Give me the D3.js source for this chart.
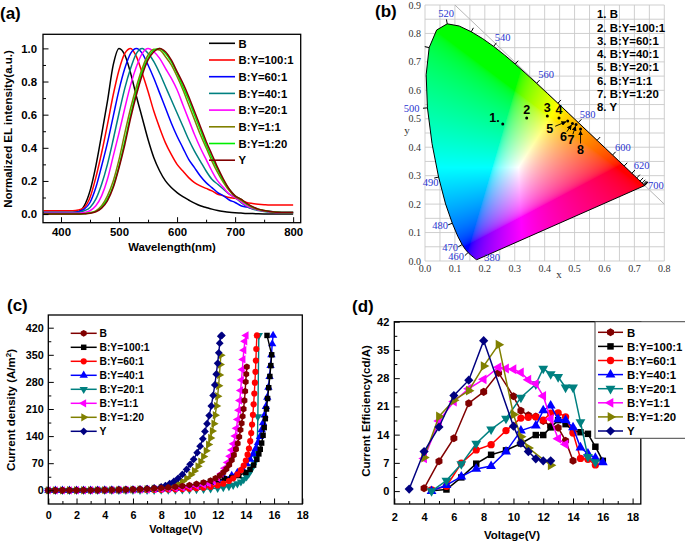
<!DOCTYPE html>
<html><head><meta charset="utf-8">
<script src="https://cdn.jsdelivr.net/npm/d3@7"></script>
<style>html,body{margin:0;padding:0;background:#fff}svg{display:block}</style>
</head><body>
<svg id="fig" width="685" height="541" xmlns="http://www.w3.org/2000/svg"></svg>
<script>
// ================= DATA =================
const seriesNames = ["B","B:Y=100:1","B:Y=60:1","B:Y=40:1","B:Y=20:1","B:Y=1:1","B:Y=1:20","Y"];

// (a) normalized EL spectra
const specWavelength = [370,400,420,430,440,450,460,470,480,490,500,510,520,530,540,550,560,570,580,590,600,610,620,630,640,650,660,670,680,690,700,710,720,730,740,750,760,780,800];
const specB     = [0.01,0.01,0.01,0.015,0.05,0.14,0.29,0.48,0.68,0.9, 1.0,0.96,0.85,0.71,0.58,0.45,0.34,0.26,0.2,0.16, 0.13,0.105,0.085,0.066,0.05,0.04,0.03,0.022,0.016,0.011, 0.008,0.006,0.004,0.003,0.002,0.001,0,0,0];
const specBY100 = [0.02,0.02,0.02,0.025,0.04,0.1,0.22,0.37,0.54,0.72, 0.87,0.97,1.0,0.95,0.85,0.74,0.62,0.52,0.43,0.36, 0.3,0.26,0.22,0.19,0.17,0.155,0.14,0.12,0.11,0.1, 0.095,0.085,0.07,0.064,0.06,0.057,0.055,0.055,0.055];
const specBY60  = [0.01,0.01,0.01,0.015,0.03,0.07,0.16,0.29,0.43,0.59, 0.75,0.88,0.97,1.0,0.97,0.9,0.82,0.73,0.64,0.55, 0.47,0.4,0.33,0.28,0.23,0.19,0.16,0.13,0.11,0.085, 0.07,0.05,0.042,0.033,0.025,0.02,0.015,0.01,0.01];
const specBY40  = [0.01,0.01,0.01,0.01,0.02,0.04,0.09,0.18,0.3,0.45, 0.61,0.76,0.88,0.97,1.0,0.97,0.92,0.85,0.77,0.69, 0.61,0.53,0.45,0.38,0.32,0.26,0.21,0.18,0.15,0.12, 0.1,0.07,0.045,0.03,0.022,0.016,0.012,0.01,0.01];
const specBY20  = [0.005,0.005,0.005,0.005,0.01,0.02,0.05,0.11,0.21,0.35, 0.49,0.64,0.78,0.89,0.97,1.0,0.98,0.94,0.88,0.82, 0.75,0.66,0.57,0.48,0.4,0.33,0.26,0.2,0.16,0.12, 0.1,0.075,0.05,0.035,0.025,0.018,0.013,0.01,0.01];
const specBY1   = [0,0,0,0,0.003,0.008,0.02,0.05,0.11,0.2, 0.33,0.49,0.64,0.77,0.88,0.96,0.995,0.99,0.95,0.9, 0.83,0.75,0.66,0.57,0.48,0.4,0.32,0.25,0.19,0.14, 0.105,0.085,0.06,0.04,0.028,0.02,0.015,0.01,0.01];
const specBY1_20= [0,0,0,0,0.002,0.006,0.016,0.04,0.09,0.17, 0.29,0.44,0.6,0.74,0.86,0.94,0.99,1.0,0.97,0.92, 0.85,0.77,0.69,0.6,0.51,0.42,0.34,0.27,0.2,0.15, 0.11,0.09,0.062,0.042,0.03,0.022,0.016,0.01,0.01];
const specY     = [0,0,0,0,0.002,0.005,0.014,0.036,0.08,0.16, 0.28,0.42,0.58,0.72,0.84,0.93,0.98,1.0,0.98,0.93, 0.86,0.79,0.71,0.62,0.53,0.44,0.36,0.28,0.21,0.15, 0.11,0.09,0.065,0.045,0.03,0.022,0.016,0.01,0.01];
const specXTicks = [400,500,600,700,800];
const specYTicks = [0,0.2,0.4,0.6,0.8,1.0];

// (b) CIE 1931 spectral locus and device coordinates
const cieLocusWl = [380,385,390,395,400,405,410,415,420,425,430,435,440,445,450,455,460,465,470,475,480,485,490,495,500,505,510,515,520,525,530,535,540,545,550,555,560,565,570,575,580,585,590,595,600,605,610,615,620,625,630,635,640,645,650,660,670,680,690,700];
const cieLocusX = [.1741,.1740,.1738,.1736,.1733,.1730,.1726,.1721,.1714,.1703,.1689,.1669,.1644,.1611,.1566,.1510,.1440,.1355,.1241,.1096,.0913,.0687,.0454,.0235,.0082,.0039,.0139,.0389,.0743,.1142,.1547,.1929,.2296,.2658,.3016,.3373,.3731,.4087,.4441,.4788,.5125,.5448,.5752,.6029,.6270,.6482,.6658,.6801,.6915,.7006,.7079,.7140,.7190,.7230,.7260,.7300,.7320,.7334,.7344,.7347];
const cieLocusY = [.0050,.0050,.0049,.0049,.0048,.0048,.0048,.0048,.0051,.0058,.0069,.0086,.0109,.0138,.0177,.0227,.0297,.0399,.0578,.0868,.1327,.2007,.2950,.4127,.5384,.6548,.7502,.8120,.8338,.8262,.8059,.7816,.7543,.7243,.6923,.6589,.6245,.5896,.5547,.5202,.4866,.4544,.4242,.3965,.3725,.3514,.3340,.3197,.3083,.2993,.2920,.2859,.2809,.2770,.2740,.2700,.2680,.2666,.2656,.2653];
const cieLabelWl = [380,460,470,480,490,500,520,540,560,580,600,620,700];
const ciePointX = [0.26,0.34,0.409,0.448,0.477,0.493,0.505,0.52];
const ciePointY = [0.482,0.503,0.51,0.503,0.492,0.483,0.48,0.464];
const ciePointLabel = ["1.","2","3","4","5","6","7","8"];
const cieLegend = ["1. B","2. B:Y=100:1","3. B:Y=60:1","4. B:Y=40:1","5. B:Y=20:1","6. B:Y=1:1","7. B:Y=1:20","8. Y"];
const cieXTicks = [0,0.1,0.2,0.3,0.4,0.5,0.6,0.7,0.8];
const cieYTicks = [0,0.1,0.2,0.3,0.4,0.5,0.6,0.7,0.8,0.9];

// (c) current density vs voltage  [V, A/m2]
const jvB = [[0,0],[0.5,0],[1,0.1],[1.5,0.2],[2,0.3],[2.5,0.4],[3,0.5],[3.5,0.7],[4,0.9],[4.5,1.2],[5,1.5],[5.5,1.9],[6,2.4],[6.5,3],[7,3.8],[7.5,4.8],[8,6],[8.5,7.4],[9,9],[9.5,11],[10,13.3],[10.5,16.3],[11,20],[11.5,25],[11.85,31],[12.15,38],[12.4,46],[12.62,55],[12.82,66],[13,78],[13.15,91],[13.3,106],[13.42,121],[13.53,138],[13.62,156],[13.7,173],[13.77,191],[13.84,210],[13.9,232],[13.95,256],[13.99,280],[14.03,300],[14.07,319]];
const jvBY100 = [[0,0],[0.5,0],[1,0],[1.5,0.1],[2,0.1],[2.5,0.2],[3,0.2],[3.5,0.3],[4,0.4],[4.5,0.5],[5,0.7],[5.5,0.9],[6,1.2],[6.5,1.5],[7,2],[7.5,2.6],[8,3.4],[8.5,4.5],[9,6],[9.5,8],[10,10.5],[10.5,14],[11,18],[11.5,23],[12,27],[12.5,30],[13,33],[13.5,38],[14,46],[14.3,54],[14.55,65],[14.78,80],[14.92,94],[15.02,106],[15.12,122],[15.22,142],[15.3,162],[15.38,185],[15.46,210],[15.54,237],[15.62,265],[15.7,294],[15.77,322],[15.83,350],[15.5,400]];
const jvBY60 = [[0,0],[0.5,0],[1,0],[1.5,0],[2,0],[2.5,0.1],[3,0.1],[3.5,0.2],[4,0.2],[4.5,0.3],[5,0.4],[5.5,0.5],[6,0.6],[6.5,0.8],[7,1],[7.5,1.3],[8,1.6],[8.5,2],[9,2.5],[9.5,3.2],[10,4],[10.5,5.2],[11,6.8],[11.5,9],[12,12.5],[12.4,17],[12.8,24],[13.1,31],[13.4,41],[13.65,52],[13.85,64],[14,77],[14.12,92],[14.22,108],[14.31,127],[14.38,148],[14.44,170],[14.5,195],[14.55,222],[14.6,250],[14.64,278],[14.68,306],[14.71,335],[14.74,365],[14.78,400]];
const jvBY40 = [[0,0],[0.5,0],[1,0],[1.5,0],[2,0.1],[2.5,0.1],[3,0.2],[3.5,0.2],[4,0.3],[4.5,0.4],[5,0.5],[5.5,0.7],[6,0.9],[6.5,1.2],[7,1.6],[7.5,2.1],[8,2.8],[8.5,3.7],[9,4.8],[9.5,6.3],[10,8.3],[10.5,11],[11,14.5],[11.5,19],[12,24],[12.5,30],[13,38],[13.4,46],[13.75,56],[14.05,68],[14.3,80],[14.52,94],[14.7,108],[14.86,123],[15,139],[15.12,156],[15.22,174],[15.32,194],[15.42,216],[15.52,240],[15.6,266],[15.68,294],[15.75,322],[15.81,350],[15.87,378],[15.93,400]];
const jvBY20 = [[0,0],[0.5,0],[1,0],[1.5,0],[2,0],[2.5,0],[3,0],[3.5,0.1],[4,0.1],[4.5,0.1],[5,0.2],[5.5,0.2],[6,0.3],[6.5,0.3],[7,0.4],[7.5,0.5],[8,0.6],[8.5,0.8],[9,1],[9.5,1.3],[10,1.7],[10.5,2.2],[11,3],[11.5,4],[12,5.5],[12.4,7.5],[12.8,10],[13.1,13],[13.4,17],[13.65,22],[13.85,28],[14.05,35],[14.2,42],[14.35,52],[14.5,62],[14.62,72],[14.72,84],[14.8,96],[14.85,190],[14.92,400]];
const jvBY1 = [[0,0],[0.5,0],[1,0],[1.5,0],[2,0.1],[2.5,0.1],[3,0.2],[3.5,0.3],[4,0.4],[4.5,0.5],[5,0.7],[5.5,0.9],[6,1.2],[6.5,1.6],[7,2.1],[7.5,2.8],[8,3.6],[8.5,4.6],[9,5.8],[9.5,7.3],[10,9.2],[10.5,11.5],[11,14.5],[11.35,18],[11.7,24],[12,32],[12.25,43],[12.5,57],[12.7,72],[12.87,88],[13,104],[13.12,120],[13.24,140],[13.33,160],[13.42,183],[13.5,207],[13.57,232],[13.63,258],[13.69,285],[13.75,312],[13.8,338],[13.86,362],[13.93,385],[14.02,400]];
const jvBY1_20 = [[0,0],[0.5,0],[1,0],[1.5,0.1],[2,0.1],[2.5,0.2],[3,0.3],[3.5,0.4],[4,0.5],[4.5,0.7],[5,0.9],[5.5,1.2],[6,1.6],[6.5,2.2],[7,3.1],[7.5,4.4],[8,6.3],[8.5,9.5],[8.9,13],[9.2,17],[9.5,23],[9.8,31],[10.1,40],[10.35,50],[10.6,62],[10.8,74],[11,87],[11.18,102],[11.35,118],[11.5,135],[11.62,153],[11.73,172],[11.83,194],[11.92,218],[12,243],[12.07,270],[12.13,298],[12.18,325],[12.23,349]];
const jvY = [[0,0],[0.5,0],[1,0.1],[1.5,0.1],[2,0.2],[2.5,0.3],[3,0.4],[3.5,0.5],[4,0.7],[4.5,0.9],[5,1.2],[5.5,1.6],[6,2.2],[6.5,3.1],[7,4.4],[7.5,6.3],[8,9],[8.3,12],[8.6,17],[8.9,23],[9.2,31],[9.5,41],[9.8,54],[10.05,67],[10.3,80],[10.55,97],[10.76,114],[10.95,133],[11.1,152],[11.25,172],[11.4,193],[11.55,218],[11.68,245],[11.8,272],[11.9,300],[12,328],[12.08,355],[12.15,380],[12.22,398],[12.3,400]];
const jvXTicks = [0,2,4,6,8,10,12,14,16,18];
const jvYTicks = [0,70,140,210,280,350,420];

// (d) current efficiency vs voltage  [V, cd/A]
const ceB = [[4,0.7],[5,7.4],[6,13.1],[7,21.8],[8,24.6],[9,29.3],[10,23.5],[10.5,19.9],[11,18.8],[11.5,18.5],[12,17.4],[12.5,16.1],[13,15.7],[13.5,12.5],[14,7.5]];
const ceBY100 = [[4.5,0.1],[5.5,0.4],[6.5,3.4],[7.5,6.8],[8.5,9],[9.5,10.1],[10.5,11.8],[11.5,13.9],[12,13.9],[12.5,15.8],[13,17.6],[13.5,16.6],[14,15],[14.5,14.6],[15,14.2],[15.5,11],[16,7.5]];
const ceBY60 = [[4.5,0.3],[5.5,1.2],[6.5,6.9],[7.5,10.2],[8.5,11.5],[9.5,15],[10.5,18.1],[11,18.3],[11.5,18.4],[12,17.6],[12.5,19.3],[13,19.4],[13.5,18.4],[14,14.4],[14.5,8.1],[15,7.9],[15.5,6.5]];
const ceBY40 = [[4.5,0],[5.5,1.5],[6.5,3.6],[7.5,5.5],[8.5,6.2],[9.5,9.8],[10.5,15],[11.5,16.2],[12,20],[12.5,21.2],[13,17.8],[13.5,17.6],[14,15.8],[14.5,10.8],[15,9.3],[15.5,8.2],[16,7.1]];
const ceBY20 = [[4.5,0],[5.5,2.6],[6.5,6.7],[7.5,11.8],[8.5,15.3],[9.5,18],[10.5,23.2],[11.5,26.5],[12,30.4],[12.5,29],[13,28.3],[13.5,25.7],[14,25.7],[14.5,17.1],[15,8.5],[15.5,7.2]];
const ceBY1 = [[4,8.1],[5,17.4],[6,22.2],[7,25.4],[8,27.7],[9,30.7],[9.5,30.4],[10,30.2],[10.5,29.4],[11,27.6],[11.5,26.6],[12,23.6],[12.5,17.9],[13,13],[13.5,11.6]];
const ceBY1_20 = [[4,8.3],[5,18.5],[6,22.5],[7,24.9],[8,31],[9,36.3],[10,19],[10.5,13.5],[11,10.7],[12.5,6.4]];
const ceY = [[3,0.5],[4,9.8],[5,15.9],[6,23.7],[7,27.5],[8,37.3],[10,16.1],[10.5,11.9],[11,9.8],[11.5,8],[12,7.5],[12.5,7.5]];
const ceXTicks = [2,4,6,8,10,12,14,16,18];
const ceYTicks = [0,7,14,21,28,35,42];

// ================= STYLE =================
const SANS = "'Liberation Sans', Arial, Helvetica, sans-serif";
const SERIF = "'Liberation Serif', 'Times New Roman', serif";
const specColors = ["#000000","#ff0000","#0000ff","#008080","#ff00ff","#808000","#00ee00","#800000"];
const devColors  = ["#800000","#000000","#ff0000","#0000ff","#008080","#ff00ff","#808000","#000080"];
// pixel offsets of the wavelength labels from their locus point (annotation layout)
const cieLabelOffset = {380:[15,-2.5],460:[-12,4],470:[-12,2.4],480:[-12.3,2.4],490:[-8,5.6],500:[-15.8,0],520:[-1,-11],
  540:[9,-9.2],560:[9.4,-9.4],580:[9.4,-8.3],600:[10.2,-7.8],620:[9.9,-7.6],700:[11.2,0]};

const svg = d3.select("#fig");
const fmt1 = d3.format(".1f");

const hexagon = { draw(ctx, size) { const r = Math.sqrt(size / 2.598);
  for (let i = 0; i < 6; i++) { const a = Math.PI / 3 * i + Math.PI / 6; const px = r * Math.cos(a), py = r * Math.sin(a); if (i) ctx.lineTo(px, py); else ctx.moveTo(px, py); }
  ctx.closePath(); } };
const markerDefs = [
  {type: hexagon, rot: 0}, {type: d3.symbolSquare, rot: 0}, {type: d3.symbolCircle, rot: 0},
  {type: d3.symbolTriangle, rot: 0}, {type: d3.symbolTriangle, rot: 180}, {type: d3.symbolTriangle, rot: -90},
  {type: d3.symbolTriangle, rot: 90}, {type: d3.symbolSquare, rot: 45}];

function originAxes(g, x, y, o) {
  const [xl, xr] = x.range(), [yb, yt] = y.range();
  const style = sel => {
    sel.select(".domain").remove();
    sel.selectAll("line").attr("stroke", "#000").attr("stroke-width", 1);
    sel.selectAll("text").attr("font-family", SANS).attr("font-weight", "bold").attr("font-size", o.fs).attr("fill", "#000");
  };
  g.append("g").attr("transform", `translate(0,${yb})`).call(d3.axisBottom(x).tickValues(o.xMinor).tickSize(-3).tickFormat("")).call(style);
  g.append("g").attr("transform", `translate(0,${yb})`).call(d3.axisBottom(x).tickValues(o.xTicks).tickSize(-5.5).tickPadding(o.xPad).tickFormat(o.xFmt)).call(style);
  g.append("g").attr("transform", `translate(${xl},0)`).call(d3.axisLeft(y).tickValues(o.yMinor).tickSize(-3).tickFormat("")).call(style);
  g.append("g").attr("transform", `translate(${xl},0)`).call(d3.axisLeft(y).tickValues(o.yTicks).tickSize(-5.5).tickPadding(o.yPad).tickFormat(o.yFmt)).call(style);
  g.append("rect").attr("x", xl).attr("y", yt).attr("width", xr - xl).attr("height", yb - yt)
    .attr("fill", "none").attr("stroke", "#000").attr("stroke-width", 1.3);
}
function boldText(g, x, y, txt, fs, anchor, rot) {
  const t = g.append("text").attr("x", x).attr("y", y).attr("font-family", SANS).attr("font-weight", "bold")
    .attr("font-size", fs).attr("text-anchor", anchor || "start").attr("fill", "#000").text(txt);
  if (rot) t.attr("transform", `rotate(${rot},${x},${y})`);
  return t;
}

// ================= (a) =================
{
  const g = svg.append("g");
  const x = d3.scaleLinear().domain([369, 813]).range([43, 300.7]);
  const y = d3.scaleLinear().domain([-0.052, 1.085]).range([222.7, 34.3]);
  const series = [specB, specBY100, specBY60, specBY40, specBY20, specBY1, specBY1_20, specY];
  const line = d3.line().x((d, i) => x(specWavelength[i])).y(d => y(d)).curve(d3.curveMonotoneX);
  series.forEach((s, k) => g.append("path").attr("d", line(s)).attr("fill", "none")
    .attr("stroke", specColors[k]).attr("stroke-width", 1.5));
  originAxes(g, x, y, {xTicks: specXTicks, xMinor: [450, 550, 650, 750], yTicks: specYTicks,
    yMinor: [0.1, 0.3, 0.5, 0.7, 0.9], xFmt: d3.format("d"), yFmt: fmt1, fs: 11.4, xPad: 5, yPad: 6});
  const ly = d3.scaleLinear().domain([0, 1]).range([43.3, 60]);
  seriesNames.forEach((n, k) => {
    g.append("line").attr("x1", 209).attr("x2", 235).attr("y1", ly(k)).attr("y2", ly(k))
      .attr("stroke", specColors[k]).attr("stroke-width", 1.6);
    boldText(g, 238.5, ly(k) + 4.2, n, 11.3);
  });
  boldText(g, 172, 251, "Wavelength(nm)", 11.3, "middle");
  boldText(g, 12, 129, "Normalized EL intensity(a.u.)", 11.5, "middle", -90);
  boldText(g, 0, 19, "(a)", 17);
}

// ================= (b) =================
{
  const g = svg.append("g");
  const x = d3.scaleLinear().domain([0, 0.8]).range([425, 664.3]);
  const y = d3.scaleLinear().domain([0, 0.9]).range([261, 5]);
  const gx = d3.range(0, 16.5).map(i => i * 0.05), gy = d3.range(0, 18.5).map(i => i * 0.05);
  g.selectAll(".gv").data(gx).join("line").attr("x1", d => x(d)).attr("x2", d => x(d)).attr("y1", y(0)).attr("y2", y(0.9))
    .attr("stroke", "#c9c9c9").attr("stroke-width", 0.9);
  g.selectAll(".gh").data(gy).join("line").attr("y1", d => y(d)).attr("y2", d => y(d)).attr("x1", x(0)).attr("x2", x(0.8))
    .attr("stroke", "#c9c9c9").attr("stroke-width", 0.9);
  g.append("line").attr("x1", x(0.1)).attr("y1", y(0.9)).attr("x2", x(0.8)).attr("y2", y(0.2))
    .attr("stroke", "#b5b5b5").attr("stroke-width", 1);
  const x0 = x.range()[0], y0 = y.range()[1];
  const cw = Math.ceil(x.range()[1] - x0), ch = Math.ceil(y.range()[0] - y0);
  const cvs = document.createElement("canvas"); cvs.width = cw; cvs.height = ch;
  const ctx = cvs.getContext("2d"); const im = ctx.createImageData(cw, ch);
  const gam = v => v <= 0.0031308 ? 12.92 * v : 1.055 * Math.pow(v, 1 / 2.4) - 0.055;
  for (let j = 0; j < ch; j++) for (let i = 0; i < cw; i++) {
    const cx = x.invert(x0 + i + 0.5), cy = y.invert(y0 + j + 0.5);
    if (cy <= 0.002) continue;
    const X = cx / cy, Y = 1, Z = (1 - cx - cy) / cy;
    let r = Math.max(0, 3.2406 * X - 1.5372 * Y - 0.4986 * Z);
    let gg = Math.max(0, -0.9689 * X + 1.8758 * Y + 0.0415 * Z);
    let b = Math.max(0, 0.0557 * X - 0.2040 * Y + 1.0570 * Z);
    const m = Math.max(r, gg, b) || 1;
    const idx = (j * cw + i) * 4;
    im.data[idx] = 255 * gam(r / m); im.data[idx + 1] = 255 * gam(gg / m); im.data[idx + 2] = 255 * gam(b / m); im.data[idx + 3] = 255;
  }
  ctx.putImageData(im, 0, 0);
  const locusPx = cieLocusWl.map((w, i) => [x(cieLocusX[i]), y(cieLocusY[i])]);
  const locusPath = d3.line()(locusPx) + "Z";
  svg.append("defs").append("clipPath").attr("id", "locusClip").append("path").attr("d", locusPath);
  g.append("image").attr("href", cvs.toDataURL()).attr("x", x0).attr("y", y0).attr("width", cw).attr("height", ch)
    .attr("preserveAspectRatio", "none").attr("clip-path", "url(#locusClip)");
  g.append("path").attr("d", locusPath).attr("fill", "none").attr("stroke", "#000").attr("stroke-width", 1);
  const cen = [x(0.33), y(0.33)];
  const normalAt = i => {
    const a = locusPx[Math.max(i - 1, 0)], b = locusPx[Math.min(i + 1, locusPx.length - 1)];
    let nx = b[1] - a[1], ny = -(b[0] - a[0]); const L = Math.hypot(nx, ny) || 1; nx /= L; ny /= L;
    const p = locusPx[i]; if ((p[0] - cen[0]) * nx + (p[1] - cen[1]) * ny < 0) { nx = -nx; ny = -ny; }
    return [nx, ny];
  };
  cieLocusWl.forEach((w, i) => {
    if (w < 460 || w % 10) return;
    const [nx, ny] = normalAt(i), p = locusPx[i];
    g.append("line").attr("x1", p[0]).attr("y1", p[1]).attr("x2", p[0] + nx * 4.5).attr("y2", p[1] + ny * 4.5)
      .attr("stroke", "#000").attr("stroke-width", 1);
  });
  cieLabelWl.forEach(w => {
    const i = cieLocusWl.indexOf(w); const p = locusPx[i]; const o = cieLabelOffset[w];
    g.append("text").attr("x", p[0] + o[0]).attr("y", p[1] + o[1]).attr("dy", "0.35em")
      .attr("text-anchor", "middle").attr("font-family", SERIF).attr("font-size", 10.5).attr("fill", "#2a35d0").text(w);
  });
  g.selectAll(".xt").data(cieXTicks).join("text").attr("x", d => x(d)).attr("y", 272).attr("text-anchor", "middle")
    .attr("font-family", SERIF).attr("font-size", 10).attr("fill", "#333").text(d => fmt1(d));
  g.selectAll(".yt").data(cieYTicks).join("text").attr("x", 421).attr("y", d => y(d) + 3.5).attr("text-anchor", "end")
    .attr("font-family", SERIF).attr("font-size", 10).attr("fill", "#333").text(d => fmt1(d));
  g.append("text").attr("x", 559).attr("y", 278).attr("text-anchor", "middle").attr("font-family", SERIF).attr("font-size", 11).attr("fill", "#333").text("x");
  g.append("text").attr("x", 407).attr("y", 134).attr("text-anchor", "middle").attr("font-family", SERIF).attr("font-size", 11).attr("fill", "#333").text("y");
  svg.select("defs").append("marker").attr("id", "arrowHead").attr("viewBox", "0 0 6 6").attr("refX", 5.5).attr("refY", 3)
    .attr("markerWidth", 5).attr("markerHeight", 5).attr("markerUnits", "userSpaceOnUse").attr("orient", "auto")
    .append("path").attr("d", "M0,0 L6,3 L0,6 Z").attr("fill", "#000");
  const labelOff = [[-3, -2, "end"], [0, -4, "middle"], [0, -4, "middle"], [0, -4, "middle"], [-18, 12, "middle"], [-9, 17.5, "middle"], [-5, 20, "middle"], [0, 25, "middle"]];
  ciePointX.forEach((px, k) => {
    const p = [x(px), y(ciePointY[k])];
    g.append("circle").attr("cx", p[0]).attr("cy", p[1]).attr("r", 1.5).attr("fill", "#000");
    const [ox, oy, an] = labelOff[k];
    boldText(g, p[0] + ox, p[1] + oy, ciePointLabel[k], 12.5, an);
    if (k >= 4) {
      const lc = [p[0] + ox, p[1] + oy - 4.5];
      const dx = p[0] - lc[0], dy = p[1] - lc[1], L = Math.hypot(dx, dy);
      g.append("line").attr("x1", lc[0] + dx / L * 6).attr("y1", lc[1] + dy / L * 6)
        .attr("x2", p[0] - dx / L * 1.8).attr("y2", p[1] - dy / L * 1.8)
        .attr("stroke", "#000").attr("stroke-width", 0.9).attr("marker-end", "url(#arrowHead)");
    }
  });
  const ly = d3.scaleLinear().domain([0, 1]).range([18.2, 31.5]);
  cieLegend.forEach((t, k) => boldText(g, 597, ly(k), t, 11.4));
  boldText(g, 375, 17, "(b)", 17);
}

// ================= (c) =================
{
  const g = svg.append("g");
  const x = d3.scaleLinear().domain([0, 18]).range([48.3, 302.3]);
  const y = d3.scaleLinear().domain([-35.4, 452.8]).range([504, 315]);
  const series = [jvB, jvBY100, jvBY60, jvBY40, jvBY20, jvBY1, jvBY1_20, jvY];
  const order = [4, 3, 1, 2, 5, 6, 7, 0];
  const line = d3.line().x(d => x(d[0])).y(d => y(d[1]));
  order.forEach(k => {
    g.append("path").attr("d", line(series[k])).attr("fill", "none").attr("stroke", devColors[k]).attr("stroke-width", 1.4);
    const sym = d3.symbol().type(markerDefs[k].type).size(30)();
    g.selectAll(null).data(series[k]).join("path").attr("d", sym)
      .attr("transform", d => `translate(${x(d[0])},${y(d[1])}) rotate(${markerDefs[k].rot})`).attr("fill", devColors[k]);
  });
  originAxes(g, x, y, {xTicks: jvXTicks, xMinor: d3.range(1, 18, 2), yTicks: jvYTicks,
    yMinor: [35, 105, 175, 245, 315, 385], xFmt: d3.format("d"), yFmt: d3.format("d"), fs: 10.8, xPad: 7, yPad: 4.5});
  const ly = d3.scaleLinear().domain([0, 1]).range([333.3, 347.3]);
  seriesNames.forEach((n, k) => {
    g.append("line").attr("x1", 70.7).attr("x2", 96.7).attr("y1", ly(k)).attr("y2", ly(k)).attr("stroke", devColors[k]).attr("stroke-width", 1.5);
    g.append("path").attr("d", d3.symbol().type(markerDefs[k].type).size(30)())
      .attr("transform", `translate(83.7,${ly(k)}) rotate(${markerDefs[k].rot})`).attr("fill", devColors[k]);
    boldText(g, 99.5, ly(k) + 3.8, n, 10.3);
  });
  boldText(g, 176, 533, "Voltage(V)", 11, "middle");
  const t = boldText(g, 15, 410, "Current density (A/m", 11.5, "middle", -90);
  t.append("tspan").attr("baseline-shift", "super").attr("font-size", 8).text("2");
  t.append("tspan").text(")");
  boldText(g, 7, 311, "(c)", 17);
}

// ================= (d) =================
{
  const g = svg.append("g");
  const x = d3.scaleLinear().domain([2, 18.55]).range([394.3, 640.8]);
  const y = d3.scaleLinear().domain([-3.2, 42]).range([504, 321.7]);
  const series = [ceB, ceBY100, ceBY60, ceBY40, ceBY20, ceBY1, ceBY1_20, ceY];
  const line = d3.line().x(d => x(d[0])).y(d => y(d[1]));
  series.forEach((s, k) => {
    g.append("path").attr("d", line(s)).attr("fill", "none").attr("stroke", devColors[k]).attr("stroke-width", 1.5);
    const sym = d3.symbol().type(markerDefs[k].type).size(42)();
    g.selectAll(null).data(s).join("path").attr("d", sym)
      .attr("transform", d => `translate(${x(d[0])},${y(d[1])}) rotate(${markerDefs[k].rot})`).attr("fill", devColors[k]);
  });
  originAxes(g, x, y, {xTicks: ceXTicks, xMinor: d3.range(3, 19, 2), yTicks: ceYTicks,
    yMinor: [3.5, 10.5, 17.5, 24.5, 31.5, 38.5], xFmt: d3.format("d"), yFmt: d3.format("d"), fs: 11, xPad: 9, yPad: 5});
  g.append("rect").attr("x", 595).attr("y", 321.7).attr("width", 100).attr("height", 116.6)
    .attr("fill", "#fff").attr("stroke", "#444").attr("stroke-width", 1);
  const ly = d3.scaleLinear().domain([0, 1]).range([332.3, 346.4]);
  seriesNames.forEach((n, k) => {
    g.append("line").attr("x1", 598).attr("x2", 623).attr("y1", ly(k)).attr("y2", ly(k)).attr("stroke", devColors[k]).attr("stroke-width", 1.5);
    g.append("path").attr("d", d3.symbol().type(markerDefs[k].type).size(42)())
      .attr("transform", `translate(610.5,${ly(k)}) rotate(${markerDefs[k].rot})`).attr("fill", devColors[k]);
    boldText(g, 627, ly(k) + 4.2, n, 11.4);
  });
  boldText(g, 512, 539, "Voltage(V)", 11.5, "middle");
  boldText(g, 370, 411, "Current Efficiency(cd/A)", 11.5, "middle", -90);
  boldText(g, 352, 312, "(d)", 17);
}
</script></body></html>
